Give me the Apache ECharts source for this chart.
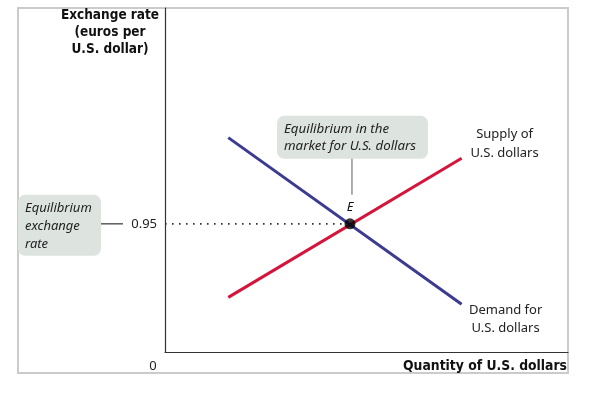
<!DOCTYPE html>
<html><head><meta charset="utf-8">
<script src="https://cdn.jsdelivr.net/npm/echarts@6/dist/echarts.min.js"></script>
<style>html,body{margin:0;padding:0;background:#fff}#c{width:607px;height:393px}</style>
</head><body><div id="c"></div>
<script>
// Data (arbitrary quantity units, euros per U.S. dollar)
const supplyQ = [15.7, 73.6];
const supplyP = [0.405, 1.436];
const demandQ = [15.7, 73.6];
const demandP = [1.589, 0.354];
const eqQ = [45.9];
const eqP = [0.95];
const yTickValues = [0.95];
const xTickValues = [0];

const chart = echarts.init(document.getElementById('c'), null, {renderer: 'canvas'});
const axisColor = '#333';
const txtFont = '"Noto Sans", "DejaVu Sans", sans-serif';
const boldFont = '"Liberation Sans Narrow", "DejaVu Sans Condensed", sans-serif';

chart.setOption({
  animation: false,
  grid: {left: 165, right: 39, top: 8, bottom: 41},
  xAxis: {
    type: 'value', min: 0, max: 100,
    axisLine: {show: true, lineStyle: {color: axisColor, width: 1.2}},
    axisTick: {show: false}, axisLabel: {show: false}, splitLine: {show: false}
  },
  yAxis: {
    type: 'value', min: 0, max: 2.55,
    axisLine: {show: true, lineStyle: {color: axisColor, width: 1.2}},
    axisTick: {show: false}, splitLine: {show: false},
    axisLabel: {
      show: true, customValues: yTickValues, margin: 8,
      formatter: v => v.toFixed(2),
      color: '#222', fontSize: 13, fontFamily: txtFont
    }
  },
  series: [
    {
      type: 'line', name: 'dotted', silent: true, symbol: 'none',
      data: [[0, eqP[0]], [eqQ[0], eqP[0]]],
      lineStyle: {color: '#333', width: 1.6, type: [1.6, 5.4]}, z: 2
    },
    {
      type: 'line', name: 'Supply', symbol: 'none',
      data: supplyQ.map((q, i) => [q, supplyP[i]]),
      lineStyle: {color: '#d5143c', width: 3}, z: 3
    },
    {
      type: 'line', name: 'Demand', symbol: 'none',
      data: demandQ.map((q, i) => [q, demandP[i]]),
      lineStyle: {color: '#3c3b90', width: 3}, z: 4
    },
    {
      type: 'scatter', name: 'E', symbolSize: 11,
      data: eqQ.map((q, i) => [q, eqP[i]]),
      itemStyle: {color: '#000'}, z: 5
    }
  ]
});

const px = (x, y) => chart.convertToPixel({gridIndex: 0}, [x, y]);
const origin = px(0, 0);
const topRight = px(100, 2.55);
const E = px(eqQ[0], eqP[0]);
const sEnd = px(supplyQ[1], supplyP[1]);
const dEnd = px(demandQ[1], demandP[1]);
const tick = px(0, yTickValues[0]);

const g = [];
// outer frame
g.push({type: 'rect', shape: {x: 18, y: topRight[1], width: topRight[0] - 18, height: origin[1] + 21 - topRight[1]},
  style: {fill: 'none', stroke: '#cbcbcb', lineWidth: 2}, z: 0, silent: true});
// axis titles
g.push({type: 'text', x: 110, y: topRight[1] - 1, style: {text: 'Exchange rate\n(euros per\nU.S. dollar)', font: 'bold 13.5px ' + boldFont,
  fill: '#111', align: 'center', verticalAlign: 'top', lineHeight: 17}, z: 10});
g.push({type: 'text', x: topRight[0] - 1, y: origin[1] + 14, style: {text: 'Quantity of U.S. dollars', font: 'bold 13.8px ' + boldFont,
  fill: '#111', align: 'right', verticalAlign: 'middle'}, z: 10});
g.push({type: 'text', x: origin[0] - 12, y: origin[1] + 14, style: {text: String(xTickValues[0]), font: '13px ' + txtFont,
  fill: '#222', align: 'center', verticalAlign: 'middle'}, z: 10});
// left callout
g.push({type: 'rect', shape: {x: 18, y: tick[1] - 29, width: 83, height: 61, r: 7}, style: {fill: '#dde3df'}, z: 5});
g.push({type: 'text', x: 25, y: tick[1] - 25, style: {text: 'Equilibrium\nexchange\nrate', font: 'italic 13px ' + txtFont,
  fill: '#222', align: 'left', verticalAlign: 'top', lineHeight: 18}, z: 10});
g.push({type: 'line', shape: {x1: 101, y1: tick[1], x2: 123, y2: tick[1]}, style: {stroke: '#333', lineWidth: 1.2}, z: 10});
// top callout
g.push({type: 'rect', shape: {x: E[0] - 73, y: E[1] - 108, width: 151, height: 43, r: 7}, style: {fill: '#dde3df'}, z: 5});
g.push({type: 'text', x: E[0] - 66, y: E[1] - 103.5, style: {text: 'Equilibrium in the\nmarket for U.S. dollars', font: 'italic 13.3px ' + txtFont,
  fill: '#222', align: 'left', verticalAlign: 'top', lineHeight: 17}, z: 10});
g.push({type: 'line', shape: {x1: E[0] + 2, y1: E[1] - 65, x2: E[0] + 2, y2: E[1] - 29}, style: {stroke: '#777', lineWidth: 1.2}, z: 10});
g.push({type: 'text', x: E[0], y: E[1] - 17, style: {text: 'E', font: 'italic 13px ' + txtFont,
  fill: '#111', align: 'center', verticalAlign: 'middle'}, z: 10});
// curve labels
g.push({type: 'text', x: sEnd[0] + 43, y: sEnd[1] - 14, style: {text: 'Supply of\nU.S. dollars', font: '13px ' + txtFont,
  fill: '#222', align: 'center', verticalAlign: 'middle', lineHeight: 19}, z: 10});
g.push({type: 'text', x: dEnd[0] + 44, y: dEnd[1] + 15, style: {text: 'Demand for\nU.S. dollars', font: '13px ' + txtFont,
  fill: '#222', align: 'center', verticalAlign: 'middle', lineHeight: 18}, z: 10});

chart.setOption({graphic: g});
</script>
</body></html>
